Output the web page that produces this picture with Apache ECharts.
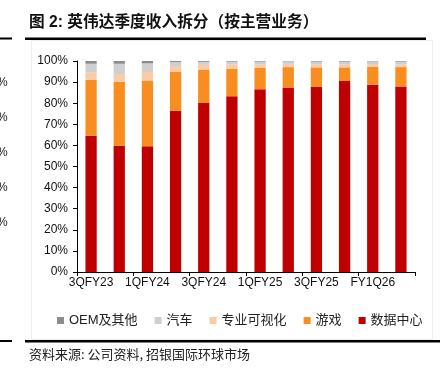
<!DOCTYPE html>
<html>
<head>
<meta charset="utf-8">
<script src="https://cdn.jsdelivr.net/npm/echarts@6/dist/echarts.min.js"></script>
<style>
html,body{margin:0;padding:0;background:#fff;}
#c{width:443px;height:376px;}
</style>
</head>
<body>
<div id="c"></div>
<script>
const categories = ['3QFY23','4QFY23','1QFY24','2QFY24','3QFY24','4QFY24','1QFY25','2QFY25','3QFY25','4QFY25','FY1Q26','FY2Q26'];
const dataCenter = [64.6, 59.8, 59.6, 76.4, 80.1, 83.3, 86.6, 87.5, 87.7, 90.5, 88.8, 87.9];
const gaming     = [26.5, 30.3, 31.1, 18.4, 15.8, 13.0, 10.2,  9.6,  9.3,  6.5,  8.5,  9.2];
const proViz     = [ 3.4,  3.7,  4.1,  2.8,  2.3,  2.1,  1.6,  1.5,  1.4,  1.3,  1.2,  1.3];
const auto       = [ 4.2,  4.9,  4.1,  1.9,  1.4,  1.3,  1.3,  1.2,  1.3,  1.4,  1.3,  1.3];
const oem        = [ 1.3,  1.3,  1.1,  0.5,  0.4,  0.3,  0.3,  0.2,  0.3,  0.3,  0.2,  0.3];
const yTicks = [0,10,20,30,40,50,60,70,80,90,100];
const seriesNames = ['数据中心','游戏','专业可视化','汽车','OEM及其他'];
const legendOrder = ['OEM及其他','汽车','专业可视化','游戏','数据中心'];

const FONT = '"Liberation Sans", Arial, "Noto Sans CJK SC", sans-serif';
const colors = {'数据中心':'#C00000','游戏':'#F98D1F','专业可视化':'#FBCBA4','汽车':'#CFCFCF','OEM及其他':'#8C8C8C'};
const values = [dataCenter, gaming, proViz, auto, oem];

const chart = echarts.init(document.getElementById('c'), null, {renderer:'canvas'});
chart.setOption({
  animation:false,
  backgroundColor:'#fff',
  textStyle:{fontFamily:FONT},
  grid:{left:77, right:28, top:61, bottom:104, containLabel:false},
  legend:{
    data:legendOrder,
    left:52, top:309,
    itemWidth:7, itemHeight:7, itemGap:17,
    icon:'rect',
    textStyle:{fontSize:13, color:'#222', fontFamily:FONT}
  },
  xAxis:{
    type:'category', data:categories,
    axisLine:{lineStyle:{color:'#000', width:1}},
    axisTick:{show:true, length:4, alignWithLabel:false, lineStyle:{color:'#000'}},
    axisLabel:{interval:1, fontSize:12, color:'#111', margin:5, fontFamily:FONT}
  },
  yAxis:{
    type:'value', min:yTicks[0], max:yTicks[yTicks.length-1], interval:10,
    axisLine:{show:true, lineStyle:{color:'#000', width:1}},
    axisTick:{show:true, length:4, lineStyle:{color:'#000'}},
    splitLine:{show:false},
    axisLabel:{formatter:'{value}%', fontSize:12, color:'#111', margin:9, fontFamily:FONT}
  },
  series: seriesNames.map((n,i)=>({
    name:n, type:'bar', stack:'total', barWidth:'40%',
    itemStyle:{color:colors[n]},
    data:values[i]
  })),
  graphic:[
    {type:'text', left:29, top:15, style:{text:'图 2: 英伟达季度收入拆分（按主营业务）', fill:'#111', font:'bold 15.7px "Liberation Sans","Noto Sans CJK SC",sans-serif'}},
    {type:'rect', shape:{x:0, y:37.5, width:12, height:2}, style:{fill:'#000'}},
    {type:'rect', shape:{x:25, y:37.5, width:401, height:2.5}, style:{fill:'#000'}},
    {type:'rect', shape:{x:31.5, y:40.5, width:401, height:299}, style:{fill:null, stroke:'#eeeeee', lineWidth:1}, z:-1},
    {type:'rect', shape:{x:0, y:340, width:12, height:2}, style:{fill:'#000'}},
    {type:'rect', shape:{x:25, y:340, width:415, height:2.5}, style:{fill:'#000'}},
    {type:'text', left:29, top:348, style:{text:'资料来源: 公司资料, 招银国际环球市场', fill:'#222', font:'13px "Noto Sans CJK SC",sans-serif'}},
    {type:'text', x:-3, y:77, style:{text:'%', font:'12px "Liberation Sans",Arial', fill:'#222'}},
    {type:'text', x:-3, y:112, style:{text:'%', font:'12px "Liberation Sans",Arial', fill:'#222'}},
    {type:'text', x:-3, y:147, style:{text:'%', font:'12px "Liberation Sans",Arial', fill:'#222'}},
    {type:'text', x:-3, y:182, style:{text:'%', font:'12px "Liberation Sans",Arial', fill:'#222'}},
    {type:'text', x:-3, y:217, style:{text:'%', font:'12px "Liberation Sans",Arial', fill:'#222'}}
  ]
});
</script>
</body>
</html>
